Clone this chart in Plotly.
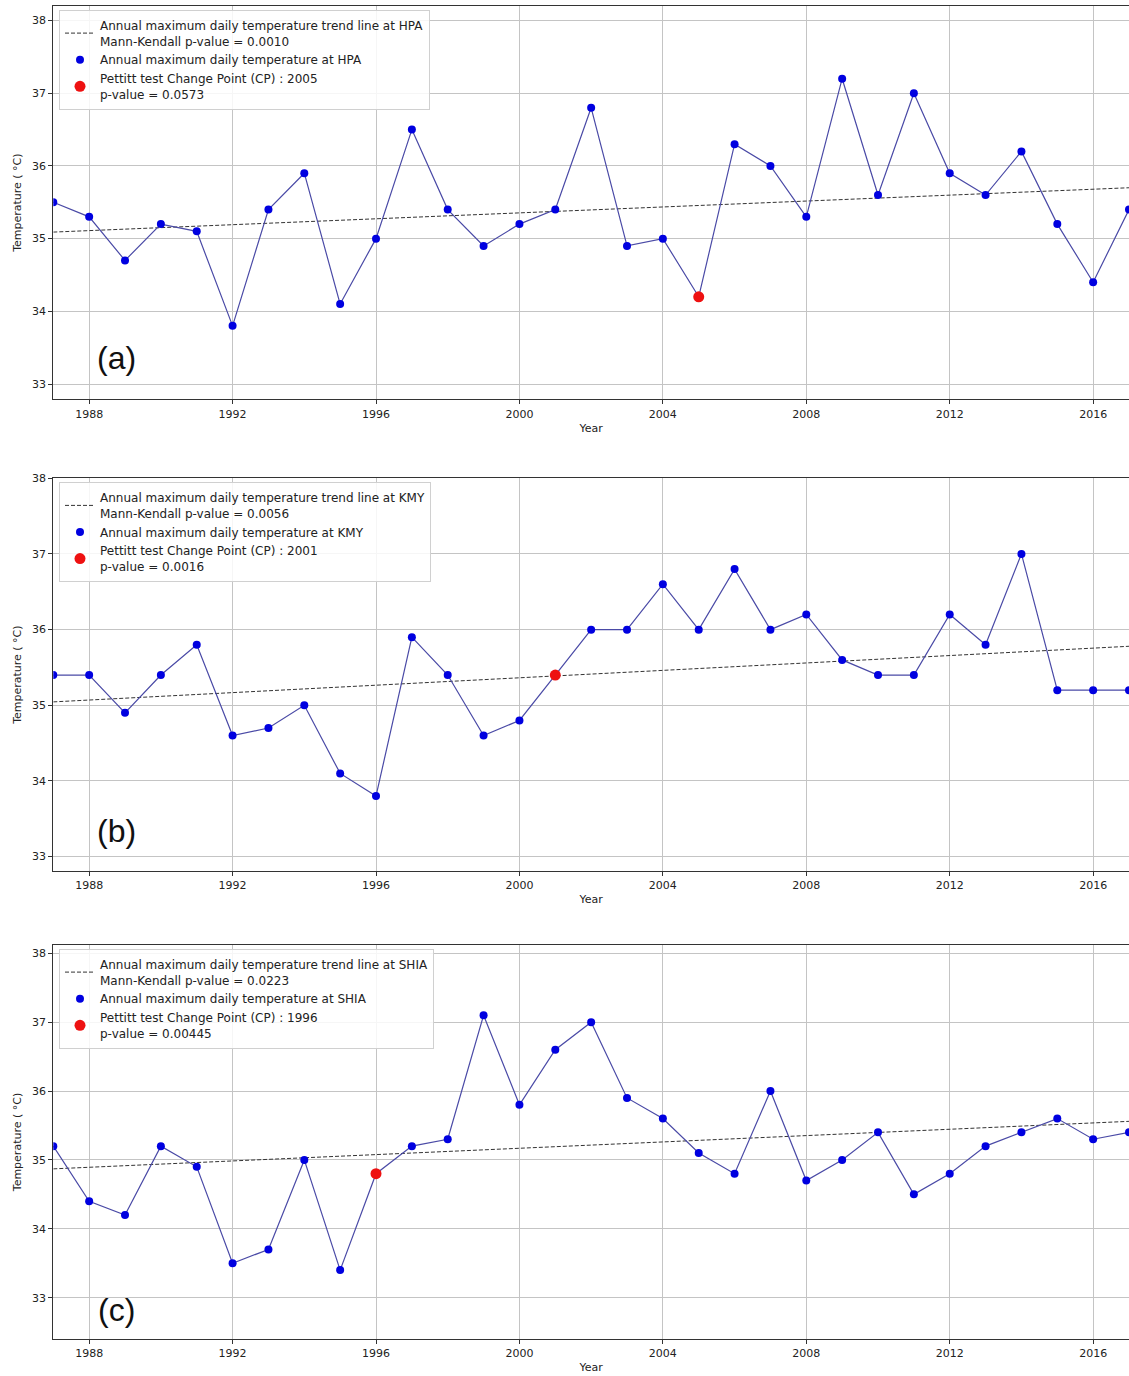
import plotly.graph_objects as go

years = list(range(1987, 2018))
hpa = [35.5, 35.3, 34.7, 35.2, 35.1, 33.8, 35.4, 35.9, 34.1, 35.0, 36.5, 35.4, 34.9, 35.2, 35.4,
       36.8, 34.9, 35.0, 34.2, 36.3, 36.0, 35.3, 37.2, 35.6, 37.0, 35.9, 35.6, 36.2, 35.2, 34.4, 35.4]
kmy = [35.4, 35.4, 34.9, 35.4, 35.8, 34.6, 34.7, 35.0, 34.1, 33.8, 35.9, 35.4, 34.6, 34.8, 35.4,
       36.0, 36.0, 36.6, 36.0, 36.8, 36.0, 36.2, 35.6, 35.4, 35.4, 36.2, 35.8, 37.0, 35.2, 35.2, 35.2]
shia = [35.2, 34.4, 34.2, 35.2, 34.9, 33.5, 33.7, 35.0, 33.4, 34.8, 35.2, 35.3, 37.1, 35.8, 36.6,
        37.0, 35.9, 35.6, 35.1, 34.8, 36.0, 34.7, 35.0, 35.4, 34.5, 34.8, 35.2, 35.4, 35.6, 35.3, 35.4]

stations = ["HPA", "KMY", "SHIA"]
mk_pvalues = ["0.0010", "0.0056", "0.0223"]
cp_years = [2005, 2001, 1996]
cp_pvalues = ["0.0573", "0.0016", "0.00445"]
trend_years = [1987, 2017]
trend_start = [35.09, 35.045, 34.87]
trend_end = [35.70, 35.78, 35.56]
panel_labels = ["(a)", "(b)", "(c)"]
series = [hpa, kmy, shia]

H = 1376.0
W = 1129.0
# pixel layout of each panel: (top, bottom, y-range)
panels = [
    (6.0, 399.3, [32.79, 38.2]),
    (478.3, 871.0, [32.81, 38.0]),
    (945.0, 1339.0, [32.40, 38.12]),
]
label_y = [0.105, 0.102, 0.074]

FONT = "DejaVu Sans"
fig = go.Figure()
layout = dict(
    width=1129, height=1376,
    margin=dict(l=0, r=0, t=0, b=0, autoexpand=False),
    paper_bgcolor="white", plot_bgcolor="white",
    font=dict(family=FONT, size=11, color="#222"),
    showlegend=True,
    annotations=[],
)
x_left = 53.3 / W

for i in range(3):
    n = "" if i == 0 else str(i + 1)
    xa, ya = "x" + n, "y" + n
    leg = "legend" + n
    top, bot, yr = panels[i]
    vals = series[i]
    st = stations[i]

    fig.add_trace(go.Scatter(
        x=trend_years, y=[trend_start[i], trend_end[i]], mode="lines",
        line=dict(color="#333333", width=1, dash="4px,2px"),
        name=f"Annual maximum daily temperature trend line at {st}<br>Mann-Kendall p-value = {mk_pvalues[i]}",
        xaxis=xa, yaxis=ya, legend=leg))
    fig.add_trace(go.Scatter(
        x=years, y=vals, mode="lines",
        line=dict(color="#4a4aa6", width=1.2),
        showlegend=False, xaxis=xa, yaxis=ya, legend=leg))
    fig.add_trace(go.Scatter(
        x=years, y=vals, mode="markers",
        marker=dict(color="#0000e0", size=8),
        name=f"Annual maximum daily temperature at {st}",
        xaxis=xa, yaxis=ya, legend=leg))
    cy = cp_years[i]
    fig.add_trace(go.Scatter(
        x=[cy], y=[vals[years.index(cy)]], mode="markers",
        marker=dict(color="#ee1111", size=11),
        name=f"Pettitt test Change Point (CP) : {cy}<br>p-value = {cp_pvalues[i]}",
        xaxis=xa, yaxis=ya, legend=leg))

    axis_common = dict(
        showline=True, linecolor="#333", linewidth=1, mirror=True,
        showgrid=True, gridcolor="#c4c4c4", gridwidth=1,
        ticks="outside", ticklen=4, tickcolor="#333", tickwidth=1,
        zeroline=False, tickfont=dict(family=FONT, size=11, color="#222"),
    )
    layout["xaxis" + n] = dict(
        axis_common, domain=[x_left, 1.0], range=[1987, 2017],
        tick0=1988, dtick=4, anchor=ya,
        title=dict(text="Year", font=dict(family=FONT, size=11, color="#222"), standoff=4),
    )
    layout["yaxis" + n] = dict(
        axis_common, domain=[1 - bot / H, 1 - top / H], range=yr,
        tick0=33, dtick=1, anchor=xa,
        title=dict(text="Temperature ( °C)", font=dict(family=FONT, size=11, color="#222"), standoff=8),
    )
    layout[leg] = dict(
        x=59 / W, y=1 - (top + 4) / H, xref="paper", yref="paper",
        xanchor="left", yanchor="top",
        bgcolor="rgba(255,255,255,0.85)", bordercolor="#d0d0d0", borderwidth=1,
        font=dict(family=FONT, size=12, color="#222"),
        tracegroupgap=0, itemwidth=30,
    )
    layout["annotations"].append(dict(
        text=panel_labels[i], xref=xa + " domain", yref=ya + " domain",
        x=0.0586, y=label_y[i], xanchor="center", yanchor="middle",
        showarrow=False, font=dict(family="Liberation Sans", size=32, color="#111"),
    ))

fig.update_layout(**layout)
fig.write_html("out.html")
